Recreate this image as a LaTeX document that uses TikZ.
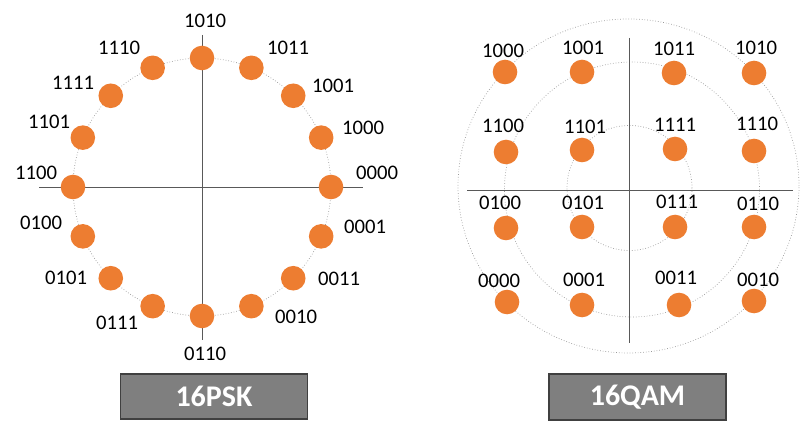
\documentclass[tikz,border=0pt]{standalone}
\usepackage{fontspec}
\setmainfont{Carlito}
\usepackage{tikz}
\definecolor{dotorange}{HTML}{ED7D31}
\definecolor{axisgray}{HTML}{595959}
\definecolor{boxgray}{HTML}{7F7F7F}
\tikzstyle{symbol}=[circle,fill=dotorange,minimum size=24.6pt,inner sep=0pt]
\tikzstyle{bits}=[inner sep=0pt,font=\fontsize{20.7}{24}\selectfont]
\tikzstyle{axis}=[draw=axisgray,line width=0.9pt]
\tikzstyle{ring}=[draw=black!40,dotted,line width=0.7pt]
\tikzstyle{title}=[rectangle,draw=black!75,line width=1.3pt,fill=boxgray,text=white,
                   font=\fontsize{30}{34}\selectfont\bfseries,inner sep=0pt]

\begin{document}
\begin{tikzpicture}[x=1pt,y=1pt]
\useasboundingbox (0,0) rectangle (800,-435);

% 16PSK
\begin{scope}[shift={(202,-187)}]
                    \draw [ring] (0,0) circle (129);
                    \coordinate (pw) at (-163,0);
                    \coordinate (pe) at (161,0);
                    \coordinate (pn) at (0,152);
                    \coordinate (ps) at (0,-153);
                    \draw [axis] (pw) -- (pe);
                    \draw [axis] (pn) -- (ps);

                    \node (p1010) at (90:129) [symbol] {};
                    \node (p1011) at (67.5:129) [symbol] {};
                    \node (p1001) at (45:129) [symbol] {};
                    \node (p1000) at (22.5:129) [symbol] {};
                    \node (p0000) at (0:129) [symbol] {};
                    \node (p0001) at (-22.5:129) [symbol] {};
                    \node (p0011) at (-45:129) [symbol] {};
                    \node (p0010) at (-67.5:129) [symbol] {};
                    \node (p0110) at (-90:129) [symbol] {};
                    \node (p0111) at (-112.5:129) [symbol] {};
                    \node (p0101) at (-135:129) [symbol] {};
                    \node (p0100) at (-157.5:129) [symbol] {};
                    \node (p1100) at (180:129) [symbol] {};
                    \node (p1101) at (157.5:129) [symbol] {};
                    \node (p1111) at (135:129) [symbol] {};
                    \node (p1110) at (112.5:129) [symbol] {};

                    \node (lp1010) at (3,166) [bits] {1010};
                    \node (lp1011) at (86,139) [bits] {1011};
                    \node (lp1001) at (131,101) [bits] {1001};
                    \node (lp1000) at (161,59) [bits] {1000};
                    \node (lp0000) at (175,14) [bits] {0000};
                    \node (lp0001) at (163,-40) [bits] {0001};
                    \node (lp0011) at (137,-92) [bits] {0011};
                    \node (lp0010) at (94,-130) [bits] {0010};
                    \node (lp0110) at (3,-167) [bits] {0110};
                    \node (lp0111) at (-85,-136) [bits] {0111};
                    \node (lp0101) at (-136,-91) [bits] {0101};
                    \node (lp0100) at (-161,-36) [bits] {0100};
                    \node (lp1100) at (-166,14) [bits] {1100};
                    \node (lp1101) at (-153,65) [bits] {1101};
                    \node (lp1111) at (-129,104) [bits] {1111};
                    \node (lp1110) at (-83,139) [bits] {1110};
\end{scope}

% 16QAM
                    \draw [ring] (628.5,-186) ellipse (170.5 and 167);
                    \draw [ring] (632,-189.5) circle (127.5);
                    \draw [ring] (629.5,-188) circle (62.5);
                    \coordinate (qw) at (467,-190);
                    \coordinate (qe) at (793,-190);
                    \coordinate (qn) at (629,-38);
                    \coordinate (qs) at (629,-343);
                    \draw [axis] (qw) -- (qe);
                    \draw [axis] (qn) -- (qs);

                    \node (q1000) at (505,-72) [symbol] {};
                    \node (q1001) at (582,-72) [symbol] {};
                    \node (q1011) at (674,-73) [symbol] {};
                    \node (q1010) at (754,-73) [symbol] {};
                    \node (q1100) at (506,-152) [symbol] {};
                    \node (q1101) at (582,-150) [symbol] {};
                    \node (q1111) at (675,-149) [symbol] {};
                    \node (q1110) at (754,-151) [symbol] {};
                    \node (q0100) at (506,-228) [symbol] {};
                    \node (q0101) at (582,-227) [symbol] {};
                    \node (q0111) at (675,-227) [symbol] {};
                    \node (q0110) at (754,-227) [symbol] {};
                    \node (q0000) at (507,-302) [symbol] {};
                    \node (q0001) at (582,-305) [symbol] {};
                    \node (q0011) at (679,-305) [symbol] {};
                    \node (q0010) at (754,-301) [symbol] {};

                    \node (lq1000) at (503,-51) [bits] {1000};
                    \node (lq1001) at (583,-48) [bits] {1001};
                    \node (lq1011) at (674,-49) [bits] {1011};
                    \node (lq1010) at (756,-48) [bits] {1010};
                    \node (lq1100) at (503,-126) [bits] {1100};
                    \node (lq1101) at (585,-127) [bits] {1101};
                    \node (lq1111) at (675,-125) [bits] {1111};
                    \node (lq1110) at (757,-124) [bits] {1110};
                    \node (lq0100) at (500,-203) [bits] {0100};
                    \node (lq0101) at (583,-203) [bits] {0101};
                    \node (lq0111) at (677,-202) [bits] {0111};
                    \node (lq0110) at (758,-204) [bits] {0110};
                    \node (lq0000) at (499,-281) [bits] {0000};
                    \node (lq0001) at (584,-280) [bits] {0001};
                    \node (lq0011) at (676,-278) [bits] {0011};
                    \node (lq0010) at (758,-280) [bits] {0010};

% titles
                    \node (psk) at (214,-396.5) [title,minimum width=187pt,minimum height=45pt] {16PSK};
                    \node (qam) at (637.5,-397) [title,minimum width=177pt,minimum height=46pt] {16QAM};
\end{tikzpicture}
\end{document}
